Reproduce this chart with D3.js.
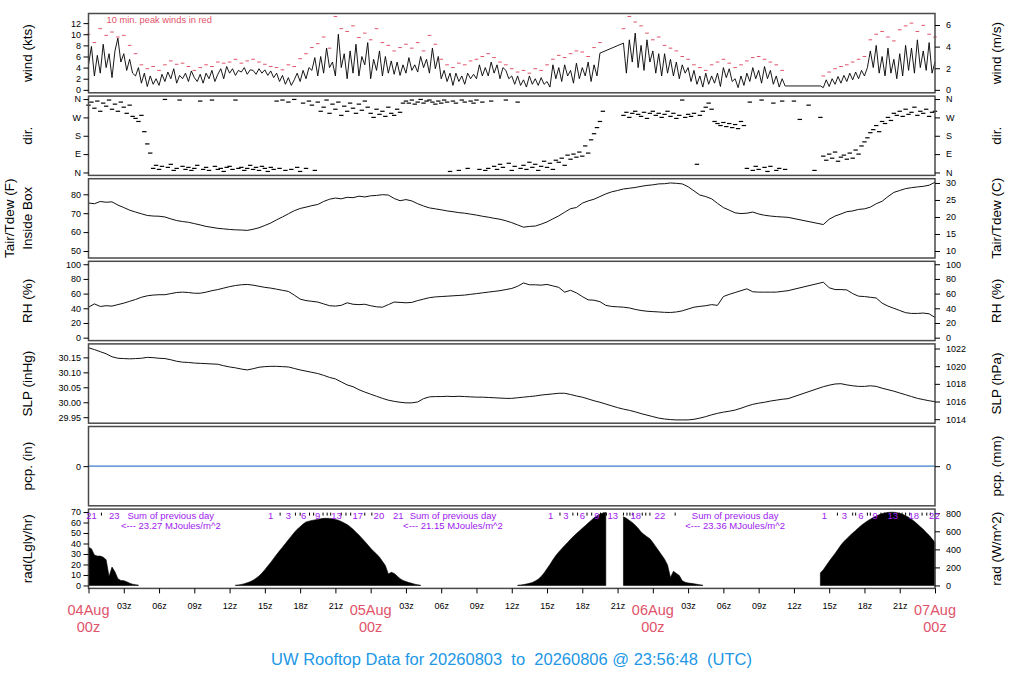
<!DOCTYPE html>
<html>
<head>
<meta charset="utf-8">
<script src="https://cdn.jsdelivr.net/npm/d3@7"></script>
<style>
  body { margin: 0; background: #fff; }
  svg { display: block; }
</style>
</head>
<body>
<svg id="chart" width="1024" height="700"></svg>
<script>
// hours since 04Aug 00z
const windStart = 0, windStep = 0.25;
const windKts = [
  4.5, 7.8, 2.5, 6.2,  3.0, 8.2, 4.0, 6.5,  2.2, 7.0, 9.3, 5.0,  6.5, 3.5, 5.5, 3.0,
  2.5, 4.0, 1.2, 3.0,  0.6, 2.5, 1.0, 2.0,  0.8, 2.8, 1.5, 3.2,  2.0, 3.8, 1.2, 2.6,
  2.0, 3.0, 1.5, 3.4,  2.2, 1.5, 2.8, 1.2,  3.0, 2.0, 3.5, 1.5,  2.8, 3.8, 2.0, 4.2,
  3.0, 3.8, 2.6, 3.5,  3.2, 4.0, 2.8, 3.6,  3.5, 2.8, 3.8, 3.0,  3.6, 2.6, 3.4, 2.2,
  3.0, 1.5, 2.6, 1.0,  2.2, 0.8, 1.8, 3.0,  1.5, 3.5, 2.0, 4.0,  3.5, 5.8, 2.5, 6.0,
  3.0, 7.5, 4.0, 5.0,  2.5, 10.0, 4.0, 6.5, 2.0, 7.0, 3.0, 8.2,  2.5, 6.0, 4.5, 8.5,
  2.0, 5.5, 3.5, 7.0,  2.5, 6.0, 3.0, 5.2,  2.8, 5.0, 2.6, 4.5,  3.0, 5.8, 3.5, 4.5,
  3.2, 6.0, 4.0, 5.5,  3.0, 7.5, 3.8, 6.0,  2.0, 3.5, 1.5, 3.0,  0.8, 3.0, 1.5, 2.5,
  1.0, 3.0, 2.0, 2.8,  2.0, 4.5, 2.5, 4.0,  2.5, 5.0, 3.0, 4.5,  2.0, 4.0, 3.5, 2.0,
  2.5, 1.0, 2.5, 0.8,  1.8, 0.5, 2.5, 1.0,  2.0, 0.8, 2.2, 1.0,  1.5, 0.5, 4.5, 2.0,
  4.0, 1.5, 4.5, 2.5,  3.5, 1.2, 4.8, 2.0,  4.0, 2.5, 5.0, 1.5,  4.5, 2.5, 6.6, null,
  null, null, null, null,  null, null, 8.4, 3.0,  9.0, 5.0, 10.2, 4.0,  8.0, 3.5, 9.0, 5.0,
  7.0, 3.0, 6.5, 2.5,  6.5, 3.0, 5.5, 2.5,  5.0, 2.0, 4.5, 3.0,  4.0, 1.5, 3.5, 1.0,
  2.5, 0.5, 3.0, 1.0,  2.5, 1.2, 3.0, 0.6,  4.0, 2.2, 3.8, 1.5,  2.0, 0.4, 2.5, 0.8,
  3.0, 1.5, 4.0, 2.0,  3.5, 1.2, 4.2, 2.0,  3.5, 1.0, 2.5, 0.5,  2.0, 0.7, null, null,
  null, null, null, null,  null, null, null, null,  null, 0.7, 0.4, 1.8,  0.6, 2.0, 1.0, 2.4,
  1.2, 2.6, 1.5, 3.0,  1.8, 3.2, 2.0, 3.5,  2.5, 4.0, 7.0, 4.0,  8.0, 3.0, 6.0, 2.5,
  7.5, 3.0, 5.5, 2.0,  6.5, 2.5, 8.0, 3.5,  7.5, 3.0, 9.0, 4.0,  7.0, 3.5, 8.5, 3.0,
  5.0
];

const peakStart = 0, peakStep = 0.5;
const peakKts = [
  10.0, 8.5, 11.0, 9.8, 10.4, 9.5,
  9.8, 8.0, 6.5, 4.5, 3.8, 4.2,
  3.5, 4.5, 5.2, 4.6, 4.8, 4.2,
  3.5, 4.0, 4.5, 4.2, 5.0, 4.8,
  5.0, 5.5, 4.8, 5.2, 5.5, 5.0,
  4.6, 4.2, 4.0, 3.6, 4.5, 4.2,
  5.6, 6.5, 7.6, 8.3, 9.5, 7.5,
  13.2, 11.0, 10.5, 11.5, 9.4, 10.2,
  9.0, 11.0, 8.5, 8.0, 7.0, 7.6,
  8.2, 7.5, 8.5, 7.0, 9.8, 8.2,
  5.5, 4.5, 4.0, 4.8, 4.5, 5.2,
  5.5, 6.0, 6.5, 5.8, 5.0, 4.5,
  3.8, 3.2, 3.5, 3.0, 3.8, 3.5,
  4.5, 5.5, 6.2, 5.8, 6.5, 7.0,
  6.8, 6.0, 7.6, 8.5, null, null,
  null, 11.0, 13.2, 12.2, 11.5, 10.2,
  9.0, 9.5, 8.0, 7.5, 7.0, 6.0,
  5.5, 4.5, 4.0, 3.5, 4.5, 5.0,
  5.5, 4.8, 4.0, 4.5, 5.2, 5.8,
  6.0, 5.5, 5.0, 4.5, 3.5, null,
  null, null, null, null, null, 2.5,
  3.2, 3.8, 4.2, 4.5, 5.0, 5.5,
  6.0, 9.0, 10.0, 10.5, 9.5, 8.8,
  10.8, 11.5, 12.0, 10.5, 11.6, 10.0,
  9.5
];

const dirStart = 0, dirStep = 0.25;
const dirDeg = [
  330, 345, 315, 350,  300, 340, 325, 355,  310, 335, 300, 345,  320, 290, 330, 275,
  265, 250, 280, 200,  140, 95, 20, 35,  15, 30, 358, 25,  40, 10, 20, 355,
  30, 15, 25, 10,  20, 35, 350, 15,  25, 10, 355, 30,  15, 20, 5, 25,
  30, 15, 355, 20,  25, 10, 20, 35,  15, 25, 10, 30,  20, 5, 25, 15,
  350, 20, 355, 10,  345, 15, 358, 25,  5, 340, 20, 350,  330, 10, 345, 300,
  320, 355, 290, 335,  310, 345, 280, 325,  300, 340, 315, 290,  335, 305, 350, 320,
  290, 270, 310, 285,  300, 275, 320, 290,  280, 310, 295, 340,  350, 340, 355, 335,
  345, 358, 340, 350,  355, 345, 335, 350,  340, 355, 345, 5,  350, 340, 10, 355,
  345, 20, 350, 340,  355, 15, 345, 10,  20, 350, 30, 15,  40, 25, 355, 45,
  10, 30, 345, 20,  35, 15, 50, 25,  40, 10, 30, 55,  25, 45, 15, 60,
  50, 70, 35, 85,  65, 90, 75, 100,  80, 130, 95, 160,  190, 220, 250, 300,
  null, null, null, null,  null, null, 280, 295,  270, 290, 300, 285,  275, 295, 265, 290,
  300, 280, 290, 270,  285, 300, 275, 290,  265, 280, 355, 270,  285, 275, 290, 40,
  280, 300, 320, 340,  310, 250, 240, 230,  245, 225, 240, 220,  235, 215, 250, 230,
  20, 345, 10, 30,  15, 355, 25, 5,  30, 340, 10, 20,  350, 15, null, null,
  350, null, 260, null,  null, 330, null, 10,  null, 270, 80, 60,  90, 70, 100, 55,
  75, 85, 65, 95,  70, 110, 90, 130,  150, 170, 195, 210,  230, 200, 250, 240,
  270, 255, 290, 280,  300, 275, 310, 285,  295, 320, 280, 300,  290, 310, 275, 295,
  300
];

const obsStart = 0, obsStep = 0.5;
const tempF = [
  75.4, 75.0, 76.2, 75.8, 76.0, 74.3,
  73.0, 71.6, 70.6, 69.7, 68.8, 68.5,
  68.4, 68.0, 67.0, 66.1, 65.6, 65.2,
  64.5, 63.8, 63.0, 62.5, 62.0, 61.7,
  61.4, 61.2, 61.1, 60.9, 61.5, 62.3,
  63.5, 64.8, 66.5, 68.0, 69.7, 71.3,
  72.5, 73.2, 74.0, 74.6, 76.2, 77.4,
  78.0, 77.6, 78.4, 78.2, 79.0, 78.6,
  79.2, 79.4, 79.8, 79.6, 77.8, 76.6,
  77.2, 76.5, 75.0, 73.8, 72.8, 72.3,
  71.8, 71.2, 70.8, 70.3, 70.0, 69.5,
  69.0, 68.4, 67.9, 67.3, 66.8, 66.0,
  65.0, 63.8, 62.6, 63.0, 63.2, 64.2,
  65.4, 67.0, 68.6, 70.5, 72.4, 73.0,
  75.3, 76.5, 77.4, 78.8, 80.2, 81.3,
  82.0, 82.8, 83.2, 83.6, 84.2, 84.7,
  85.0, 85.5, 85.6, 86.0, 85.8, 85.5,
  84.0, 81.8, 79.6, 78.8, 77.6, 75.2,
  73.0, 71.6, 70.2, 69.8, 70.0, 70.6,
  69.6, 68.9, 68.5, 68.2, 68.0, 67.8,
  null, null, null, null, null, 64.0,
  66.8, 68.5, 69.6, 70.8, 71.2, 72.0,
  72.3, 73.2, 75.0, 76.3, 78.8, 81.0,
  82.0, 83.0, 83.5, 83.9, 84.2, 84.8,
  86.4
];

const rhPct = [
  41.5, 46.0, 42.5, 43.5, 43.0, 45.0,
  47.0, 49.5, 52.0, 55.0, 57.0, 58.0,
  58.5, 58.5, 60.0, 61.5, 62.0, 61.5,
  60.5, 60.5, 62.0, 64.0, 65.5, 67.5,
  69.5, 71.0, 72.0, 72.5, 71.5, 70.0,
  68.5, 67.5, 66.0, 64.5, 63.0, 58.0,
  52.5, 50.5, 49.5, 48.5, 46.0, 43.5,
  43.0, 44.0, 47.5, 45.5, 45.0, 45.5,
  43.5, 42.0, 41.5, 45.0, 48.5, 48.0,
  47.5, 48.0, 50.5, 52.5, 54.5, 55.5,
  56.0, 56.5, 57.0, 57.5, 58.0, 59.0,
  60.0, 61.0, 62.0, 63.0, 64.0, 65.5,
  67.0, 70.0, 74.5, 72.0, 72.0, 71.5,
  72.5, 70.5, 68.5, 62.0, 64.5, 61.0,
  56.0, 51.5, 51.0, 49.0, 44.0, 42.5,
  42.0, 41.5, 40.5, 38.5, 37.0, 36.0,
  35.5, 35.0, 34.5, 34.3, 35.0, 36.5,
  39.0, 41.5, 42.6, 43.5, 45.0, 44.0,
  56.0, 59.0, 61.5, 64.0, 66.5, 62.5,
  62.0, 62.0, 62.0, 62.0, 63.0, 64.0,
  null, null, null, null, null, 75.5,
  68.0, 65.5, 65.5, 65.0, 60.0, 56.5,
  56.0, 55.0, 54.0, 47.0, 43.0, 40.0,
  37.0, 34.0, 33.0, 33.0, 33.5, 32.5,
  27.5
];

const slpInHg = [
  30.182, 30.176, 30.169, 30.162, 30.152, 30.147,
  30.146, 30.145, 30.146, 30.147, 30.150, 30.149,
  30.147, 30.146, 30.142, 30.137, 30.134, 30.133,
  30.131, 30.130, 30.129, 30.128, 30.127, 30.122,
  30.118, 30.115, 30.111, 30.108, 30.112, 30.117,
  30.119, 30.120, 30.120, 30.119, 30.118, 30.113,
  30.108, 30.104, 30.100, 30.096, 30.090, 30.083,
  30.078, 30.068, 30.058, 30.052, 30.042, 30.034,
  30.027, 30.020, 30.013, 30.007, 30.003, 30.000,
  29.998, 29.998, 30.001, 30.012, 30.018, 30.019,
  30.019, 30.020, 30.019, 30.020, 30.019, 30.018,
  30.017, 30.017, 30.016, 30.015, 30.014, 30.013,
  30.013, 30.015, 30.017, 30.019, 30.021, 30.024,
  30.026, 30.028, 30.030, 30.030, 30.026, 30.021,
  30.017, 30.011, 30.005, 30.000, 29.994, 29.988,
  29.982, 29.977, 29.973, 29.968, 29.962, 29.957,
  29.952, 29.947, 29.944, 29.942, 29.941, 29.941,
  29.941, 29.943, 29.947, 29.952, 29.958, 29.963,
  29.967, 29.970, 29.974, 29.980, 29.987, 29.993,
  29.997, 30.000, 30.004, 30.007, 30.010, 30.012,
  null, null, null, null, null, 30.052,
  30.057, 30.061, 30.062, 30.058, 30.055, 30.053,
  30.053, 30.055, 30.053, 30.047, 30.042, 30.037,
  30.031, 30.025, 30.019, 30.013, 30.009, 30.005,
  30.002
];

const pcpStart = 0, pcpStep = 3;
const pcpIn = [0, 0, 0, 0, 0, 0, 0, 0, 0, 0, 0, 0, 0, 0, 0, 0, 0, 0, 0, 0, 0, 0, 0, 0, 0];

// solar radiation, Langley/hr, 15-min samples per daylight segment
const radStep = 0.25;
const radStarts = [0, 12.5, 36.5, 62.25];
const radDay1 = [36.5, 35.0, 29.0, 28.0, 28.0, 27.0, 24.5, 8.5, 17.5, 13.0, 6.5, 4.8, 4.6, 3.5, 2.2, 1.2, 0.7, 0.3];
const radDay2 = [
  0.3, 0.5, 1.0, 1.6, 2.5, 3.6, 5.0, 6.8, 9.0, 11.8, 15.0, 18.5, 22.0, 25.8, 29.4, 33.0,
  36.5, 40.0, 43.5, 47.0, 50.5, 53.5, 56.0, 58.5, 60.5, 61.3, 62.0, 62.5, 63.0, 63.6, 64.0, 64.0,
  63.9, 63.6, 63.0, 62.2, 61.0, 59.5, 58.0, 56.0, 53.5, 50.8, 48.0, 45.0, 42.0, 38.8, 35.5, 32.5,
  30.0, 27.0, 23.0, 19.0, 11.0, 12.5, 11.5, 9.0, 6.5, 4.8, 3.8, 2.8, 2.0, 1.2, 0.6, 0.2
];
const radDay3 = [
  0.2, 0.4, 0.8, 1.4, 2.0, 2.8, 4.2, 6.0, 8.5, 12.0, 16.0, 20.0, 24.5, 28.5, 32.0, 35.0,
  38.0, 41.0, 44.0, 46.8, 49.5, 52.0, 54.5, 57.0, 59.5, 62.0, 64.5, 66.5, 68.0, 69.0, 69.5, null,
  null, null, null, null, 65.5, 64.0, 62.0, 60.0, 57.5, 54.5, 51.0, 48.5, 46.5, 44.5, 41.0, 37.0,
  33.0, 29.0, 25.0, 19.5, 7.5, 13.5, 11.5, 9.5, 4.5, 3.0, 2.4, 2.0, 1.6, 1.1, 0.6, 0.3
];
const radDay4 = [
  12.0, 15.0, 19.0, 23.0, 26.8, 30.5, 34.5, 38.5, 42.0, 44.5, 47.5, 50.0, 52.5, 55.0, 57.5, 59.5,
  61.5, 63.2, 64.8, 66.2, 67.5, 68.5, 69.2, 69.6, 69.8, 69.8, 69.4, 68.8, 67.8, 66.5, 65.0, 63.2,
  61.0, 58.5, 56.0, 53.5, 50.5, 47.8, 44.5, 41.0
];

// hours at which the running daily total passes each whole MJ/m^2
const cumFirst = [21, 1, 1, 1];
const cumHours1 = [0.0, 1.1, 2.2];
const cumHours2 = [15.5, 16.3, 17.0, 17.6, 18.0, 18.3, 18.8, 19.15, 19.5, 19.95, 20.3, 20.6, 21.1, 21.5, 21.9, 22.3, 22.9, 23.5, 24.1, 24.7, 26.35];
const cumHours3 = [39.3, 40.1, 40.6, 41.2, 41.6, 42.0, 42.4, 42.8, 43.25, 43.55, 43.8, 44.05, 44.6, 45.5, 45.8, 46.05, 46.3, 46.55, 47.1, 47.4, 47.75, 48.6, 49.9];
const cumHours4 = [62.6, 63.7, 64.3, 65.0, 65.25, 65.7, 66.25, 66.5, 66.9, 67.4, 67.7, 67.95, 68.4, 68.95, 69.2, 69.5, 69.85, 70.2, 70.9, 71.3, 71.6, 71.95];
const cumShown = [[21, 23], [1, 3, 6, 9, 13, 17, 20, 21], [1, 3, 6, 9, 13, 18, 22], [1, 3, 6, 9, 13, 18, 22]];
const sumHours = [7, 31, 55];
const sumValues = ["23.27", "21.15", "23.36"];

const hourTicks = [0, 3, 6, 9, 12, 15, 18, 21, 24, 27, 30, 33, 36, 39, 42, 45, 48, 51, 54, 57, 60, 63, 66, 69, 72];
const dayHours = [0, 24, 48, 72];
const dayNames = ["04Aug", "05Aug", "06Aug", "07Aug"];

const leftLabels = [["wind (kts)"], ["dir."], ["Tair/Tdew (F)", "Inside Box"], ["RH (%)"], ["SLP (inHg)"], ["pcp. (in)"], ["rad(Lgly/hr)"]];
const rightLabels = ["wind (m/s)", "dir.", "Tair/Tdew (C)", "RH (%)", "SLP (hPa)", "pcp. (mm)", "rad (W/m^2)"];
const titleText = "UW Rooftop Data for 20260803  to  20260806 @ 23:56:48  (UTC)";

// ---------------------------------------------------------------
const font = '"Liberation Sans", Arial, Helvetica, sans-serif';
const red = "#DF536B", blue = "#2297E6", purple = "#A020F0";

const svg = d3.select("#chart").style("font-family", font);

const x = d3.scaleLinear().domain([0, 72]).range([88.5, 935]);
const panelTop = 13.5, panelStep = 82.6, panelH = 79.3;
const topOf = i => panelTop + i * panelStep;

function panelScale(i, domain) {
    return d3.scaleLinear().domain(domain).range([topOf(i) + panelH, topOf(i)]);
}

const yWind = panelScale(0, [-0.53, 13.73]);
const yDir = panelScale(1, [-14.4, 374.4]);
const yTemp = panelScale(2, [46.3, 88.25]);
const yRH = panelScale(3, [-4, 104]);
const ySLP = panelScale(4, [29.930, 30.195]);
const yPcp = panelScale(5, [-1, 1]);
const yRad = panelScale(6, [-2.8, 72.8]);

const yWindMs = yWind.copy().domain(yWind.domain().map(k => k / 1.94384));
const yTempC = yTemp.copy().domain(yTemp.domain().map(f => (f - 32) * 5 / 9));
const ySLPhPa = ySLP.copy().domain(ySLP.domain().map(p => p * 33.8639));
const yPcpMm = yPcp.copy().domain(yPcp.domain().map(p => p * 25.4));
const yRadW = yRad.copy().domain(yRad.domain().map(l => l * 11.622));

const pts = (start, step, values) =>
    values.map((v, i) => ({ h: start + i * step, v })).filter(d => d.v !== null);

function drawLine(data, y, color, width) {
    svg.append("path")
        .datum(data)
        .attr("fill", "none")
        .attr("stroke", color)
        .attr("stroke-width", width)
        .attr("stroke-linejoin", "round")
        .attr("d", d3.line().x(d => x(d.h)).y(d => y(d.v)));
}

function drawDashes(data, y, color, half, sw) {
    svg.append("g")
        .attr("stroke", color)
        .attr("stroke-width", sw)
        .selectAll("line")
        .data(data)
        .join("line")
        .attr("x1", d => x(d.h) - half)
        .attr("x2", d => x(d.h) + half)
        .attr("y1", d => y(d.v))
        .attr("y2", d => y(d.v));
}

function axes(yl, lTicks, lFmt, yr, rTicks, rFmt) {
    svg.append("g")
        .attr("transform", `translate(${x(0)},0)`)
        .call(d3.axisLeft(yl).tickValues(lTicks).tickFormat(lFmt).tickSize(5).tickPadding(2.5))
        .attr("font-size", 9).attr("font-family", null)
        .call(g => g.select(".domain").remove());
    svg.append("g")
        .attr("transform", `translate(${x(72)},0)`)
        .call(d3.axisRight(yr).tickValues(rTicks).tickFormat(rFmt).tickSize(5).tickPadding(6))
        .attr("font-size", 9).attr("font-family", null)
        .call(g => g.select(".domain").remove());
}

// radiation: filled profile per daylight segment, broken where data is missing
const radArea = d3.area()
    .defined(d => d.v !== null)
    .x(d => x(d.h))
    .y0(yRad(0))
    .y1(d => yRad(d.v));
[radDay1, radDay2, radDay3, radDay4].forEach((vals, k) => {
    svg.append("path")
        .datum(vals.map((v, i) => ({ h: radStarts[k] + i * radStep, v })))
        .attr("fill", "#000")
        .attr("stroke", "#000")
        .attr("stroke-width", 0.6)
        .attr("d", radArea);
});

// series
drawLine(pts(windStart, windStep, windKts), yWind, "#000", 0.9);
drawDashes(pts(peakStart, peakStep, peakKts), yWind, red, 1.8, 1);
drawDashes(pts(dirStart, dirStep, dirDeg), yDir, "#000", 2.2, 1.2);
drawLine(pts(obsStart, obsStep, tempF), yTemp, "#111", 1);
drawLine(pts(obsStart, obsStep, rhPct), yRH, "#111", 1);
drawLine(pts(obsStart, obsStep, slpInHg), ySLP, "#111", 1);
drawLine(pts(pcpStart, pcpStep, pcpIn), yPcp, "#3a7dcc", 1.2);

// panel boxes
svg.append("g")
    .selectAll("rect")
    .data(d3.range(7))
    .join("rect")
    .attr("x", x(0))
    .attr("y", i => topOf(i))
    .attr("width", x(72) - x(0))
    .attr("height", panelH)
    .attr("fill", "none")
    .attr("stroke", "#4a4a4a")
    .attr("stroke-width", 1.5);

// y axes
const compass = ["N", "E", "S", "W", "N"];
axes(yWind, [0, 2, 4, 6, 8, 10, 12], d3.format("d"), yWindMs, [0, 2, 4, 6], d3.format("d"));
axes(yDir, [0, 90, 180, 270, 360], (d, i) => compass[i], yDir, [0, 90, 180, 270, 360], (d, i) => compass[i]);
axes(yTemp, [50, 60, 70, 80], d3.format("d"), yTempC, [10, 15, 20, 25, 30], d3.format("d"));
axes(yRH, [0, 20, 40, 60, 80, 100], d3.format("d"), yRH, [0, 20, 40, 60, 80, 100], d3.format("d"));
axes(ySLP, [29.95, 30.00, 30.05, 30.10, 30.15], d3.format(".2f"), ySLPhPa, [1014, 1016, 1018, 1020, 1022], d3.format("d"));
axes(yPcp, [0], d3.format("d"), yPcpMm, [0], d3.format("d"));
axes(yRad, [0, 10, 20, 30, 40, 50, 60, 70], d3.format("d"), yRadW, [0, 200, 400, 600, 800], d3.format("d"));

// panel titles
leftLabels.forEach((lines, i) => {
    const cy = topOf(i) + panelH / 2;
    const xs = lines.length === 2 ? [9, 27] : [27];
    lines.forEach((t, j) => {
        svg.append("text")
            .attr("transform", `translate(${xs[j]},${cy}) rotate(-90)`)
            .attr("text-anchor", "middle")
            .attr("dy", "0.35em")
            .attr("font-size", 13.5)
            .text(t);
    });
});
rightLabels.forEach((t, i) => {
    svg.append("text")
        .attr("transform", `translate(996,${topOf(i) + panelH / 2}) rotate(-90)`)
        .attr("text-anchor", "middle")
        .attr("dy", "0.35em")
        .attr("font-size", 13.5)
        .text(t);
});

svg.append("text")
    .attr("x", 106.5)
    .attr("y", 23)
    .attr("font-size", 9.3)
    .attr("fill", red)
    .text("10 min. peak winds in red");

// time axis
const radBottom = topOf(6) + panelH;
svg.append("g")
    .attr("transform", `translate(0,${radBottom})`)
    .call(d3.axisBottom(x).tickValues(hourTicks).tickSize(5).tickPadding(9)
        .tickFormat(h => h % 24 === 0 ? "" : d3.format("02d")(h % 24) + "z"))
    .attr("font-size", 9).attr("font-family", null)
    .call(g => g.select(".domain").remove());

svg.append("g")
    .attr("fill", red)
    .attr("font-size", 14.5)
    .attr("text-anchor", "middle")
    .selectAll("g")
    .data(dayHours)
    .join("g")
    .call(g => g.append("text").attr("x", h => x(h)).attr("y", 615).text((h, i) => dayNames[i]))
    .call(g => g.append("text").attr("x", h => x(h)).attr("y", 632).text("00z"));

// cumulative radiation marks along top of rad panel
const radTop = topOf(6);
[cumHours1, cumHours2, cumHours3, cumHours4].forEach((hours, k) => {
    const marks = hours.map((h, i) => ({ h, n: cumFirst[k] + i }));
    svg.append("g")
        .attr("stroke", "#000")
        .selectAll("line")
        .data(marks.filter(d => !cumShown[k].includes(d.n)))
        .join("line")
        .attr("x1", d => x(d.h)).attr("x2", d => x(d.h))
        .attr("y1", radTop + 3.5).attr("y2", radTop + 6.5);
    svg.append("g")
        .attr("fill", purple)
        .attr("font-size", 9.5)
        .attr("text-anchor", "middle")
        .selectAll("text")
        .data(marks.filter(d => cumShown[k].includes(d.n)))
        .join("text")
        .attr("x", d => Math.max(x(d.h), 88.5 + 3))
        .attr("y", radTop + 9.5)
        .text(d => d.n);
});

svg.append("g")
    .attr("fill", purple)
    .attr("font-size", 9.5)
    .attr("text-anchor", "middle")
    .selectAll("g")
    .data(sumHours)
    .join("g")
    .call(g => g.append("text").attr("x", h => x(h)).attr("y", radTop + 9.5).text("Sum of previous day"))
    .call(g => g.append("text").attr("x", h => x(h)).attr("y", radTop + 19.5)
        .text((h, i) => `<--- ${sumValues[i]} MJoules/m^2`));

// title
svg.append("text")
    .attr("x", 511.5)
    .attr("y", 665)
    .attr("text-anchor", "middle")
    .attr("font-size", 16.5)
    .attr("fill", blue)
    .style("white-space", "pre")
    .text(titleText);
</script>
</body>
</html>
